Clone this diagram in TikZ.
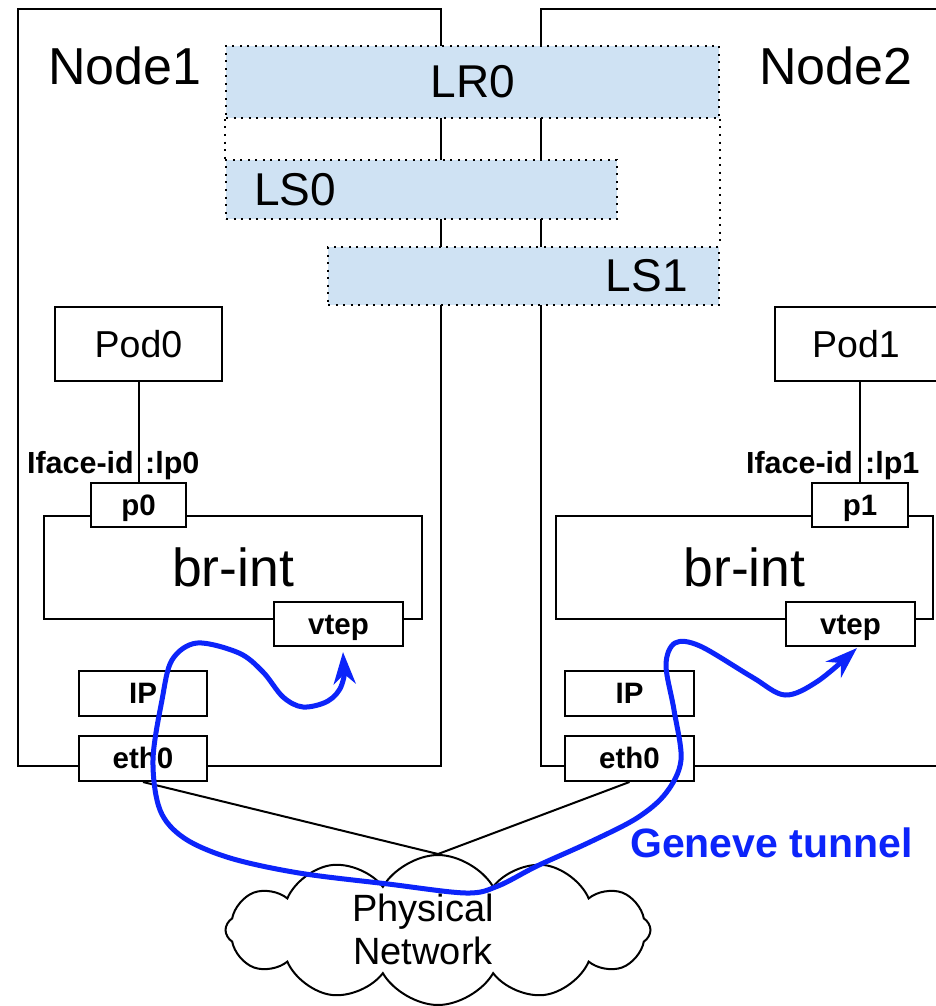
\documentclass[tikz,border=0pt]{standalone}
\usepackage{fontspec}
\setmainfont{Liberation Sans}
\usetikzlibrary{arrows.meta,shapes.symbols}
\definecolor{lrblue}{HTML}{CFE2F3}
\definecolor{tunnelblue}{RGB}{12,36,250}
\begin{document}
\begin{tikzpicture}[x=1pt,y=-1pt,
  hostbox/.style={draw,line width=2pt,inner sep=0pt},
  logbox/.style={fill=lrblue,draw,line width=2pt,dash pattern=on 2pt off 5.5pt,inner sep=0pt},
  logline/.style={line width=2pt,dash pattern=on 2pt off 5.5pt},
  podbox/.style={draw,fill=white,line width=2pt,inner sep=0pt,font=\fontsize{37.5}{44}\selectfont},
  brbox/.style={draw,fill=white,line width=2pt,inner sep=0pt,font=\fontsize{53.5}{62}\selectfont},
  portbox/.style={draw,fill=white,line width=2pt,inner sep=0pt,minimum height=44,
    text height=20,text depth=0,font=\bfseries\fontsize{29.5}{34}\selectfont},
  biglabel/.style={inner sep=0pt,font=\fontsize{52}{62}\selectfont},
  lslabel/.style={inner sep=0pt,font=\fontsize{46}{54}\selectfont},
  idlabel/.style={inner sep=0pt,font=\bfseries\fontsize{30.5}{36}\selectfont},
  wire/.style={line width=2pt},
  tunnel/.style={draw=tunnelblue,line width=5pt,line cap=round,line join=round,
    {Stealth[length=32pt,width=22pt,inset=10pt]}-{Stealth[length=32pt,width=22pt,inset=10pt]}}]
\clip (0,0) rectangle (936,1006);
\fill[white] (0,0) rectangle (936,1006);

% hosts
\node[hostbox,minimum width=423,minimum height=757] (host1) at (229.5,387.5) {};
\node[hostbox,minimum width=410,minimum height=757] (host2) at (746,387.5) {};
\node[biglabel] (host1name) at (125,66) {Node1};
\node[biglabel] (host2name) at (836,66) {Node2};

% logical router and switches
\node[logbox,minimum width=493,minimum height=72] (lr0) at (472.5,82) {};
\node[logbox,minimum width=391,minimum height=59] (ls0) at (421.5,189.5) {};
\node[logbox,minimum width=391,minimum height=58] (ls1) at (523.5,276) {};
\draw[logline] (lr0.south west) -- (ls0.north west);
\draw[logline] (lr0.south east) -- (ls1.north east);
\node[lslabel] (lr0name) at (473,82) {LR0};
\node[lslabel,anchor=west] (ls0name) at (254,189.5) {LS0};
\node[lslabel,anchor=east] (ls1name) at (688,276) {LS1};

% pods
\node[podbox,minimum width=167,minimum height=74] (pod0) at (138.5,344) {Pod0};
\node[podbox,minimum width=162,minimum height=74] (pod1) at (856,344) {Pod1};

% integration bridges
\node[brbox,minimum width=378,minimum height=103] (br1) at (233,567.5) {br-int};
\node[brbox,minimum width=377,minimum height=103] (br2) at (744.5,567.5) {br-int};
\node[portbox,minimum width=95] (p0) at (138.5,505) {p0};
\node[portbox,minimum width=96] (p1) at (860,505) {p1};
\node[portbox,minimum width=129] (vtep1) at (338.5,624) {vtep};
\node[portbox,minimum width=129] (vtep2) at (850.5,624) {vtep};
\draw[wire] (pod0.south) -- (p0.north);
\draw[wire] (p1.north) -- (p1.north |- pod1.south);
\node[idlabel,anchor=base east] (id0) at (134,473) {Iface-id};
\node[idlabel,anchor=base west] (lp0) at (145,473) {:lp0};
\node[idlabel,anchor=base east] (id1) at (853,473) {Iface-id};
\node[idlabel,anchor=base west] (lp1) at (865,473) {:lp1};

% host interfaces
\node[portbox,minimum width=128,minimum height=45] (ip1) at (143,693.5) {IP};
\node[portbox,minimum width=128,minimum height=45] (eth1) at (143,758.5) {eth0};
\node[portbox,minimum width=129,minimum height=45] (ip2) at (629.5,693.5) {IP};
\node[portbox,minimum width=129,minimum height=45] (eth2) at (629.5,758.5) {eth0};

% physical network
\node[cloud,draw,fill=white,line width=2pt,cloud puffs=12,cloud puff arc=120,
  cloud ignores aspect,minimum width=425,minimum height=150] (net) at (438,930) {};
\node[align=center,inner sep=0pt,font=\fontsize{38}{43}\selectfont]
  (netname) at (423,929) {Physical\\Network};
\draw[wire] (eth1.south) -- (net.north);
\draw[wire] (eth2.south) -- (net.north);

% geneve tunnel
\draw[tunnel] plot[smooth,tension=0.55] coordinates {
  (343,652) (342,684) (328,701) (303,707) (283,697) (263,672) (239,653)
  (197,643) (172,660) (162,700) (153,760) (160,810) (184,838) (230,858)
  (299,873) (388,884) (466,893) (498,886) (537,866) (590,842) (637,818)
  (666,793) (681,760) (674,710) (666,665) (675,643) (700,646) (752,677)
  (785,695) (818,681) (857,648)};
\node[inner sep=0pt,anchor=base west,text=tunnelblue,font=\bfseries\fontsize{41}{48}\selectfont]
  (tunnelname) at (630,857) {Geneve tunnel};
\end{tikzpicture}
\end{document}
